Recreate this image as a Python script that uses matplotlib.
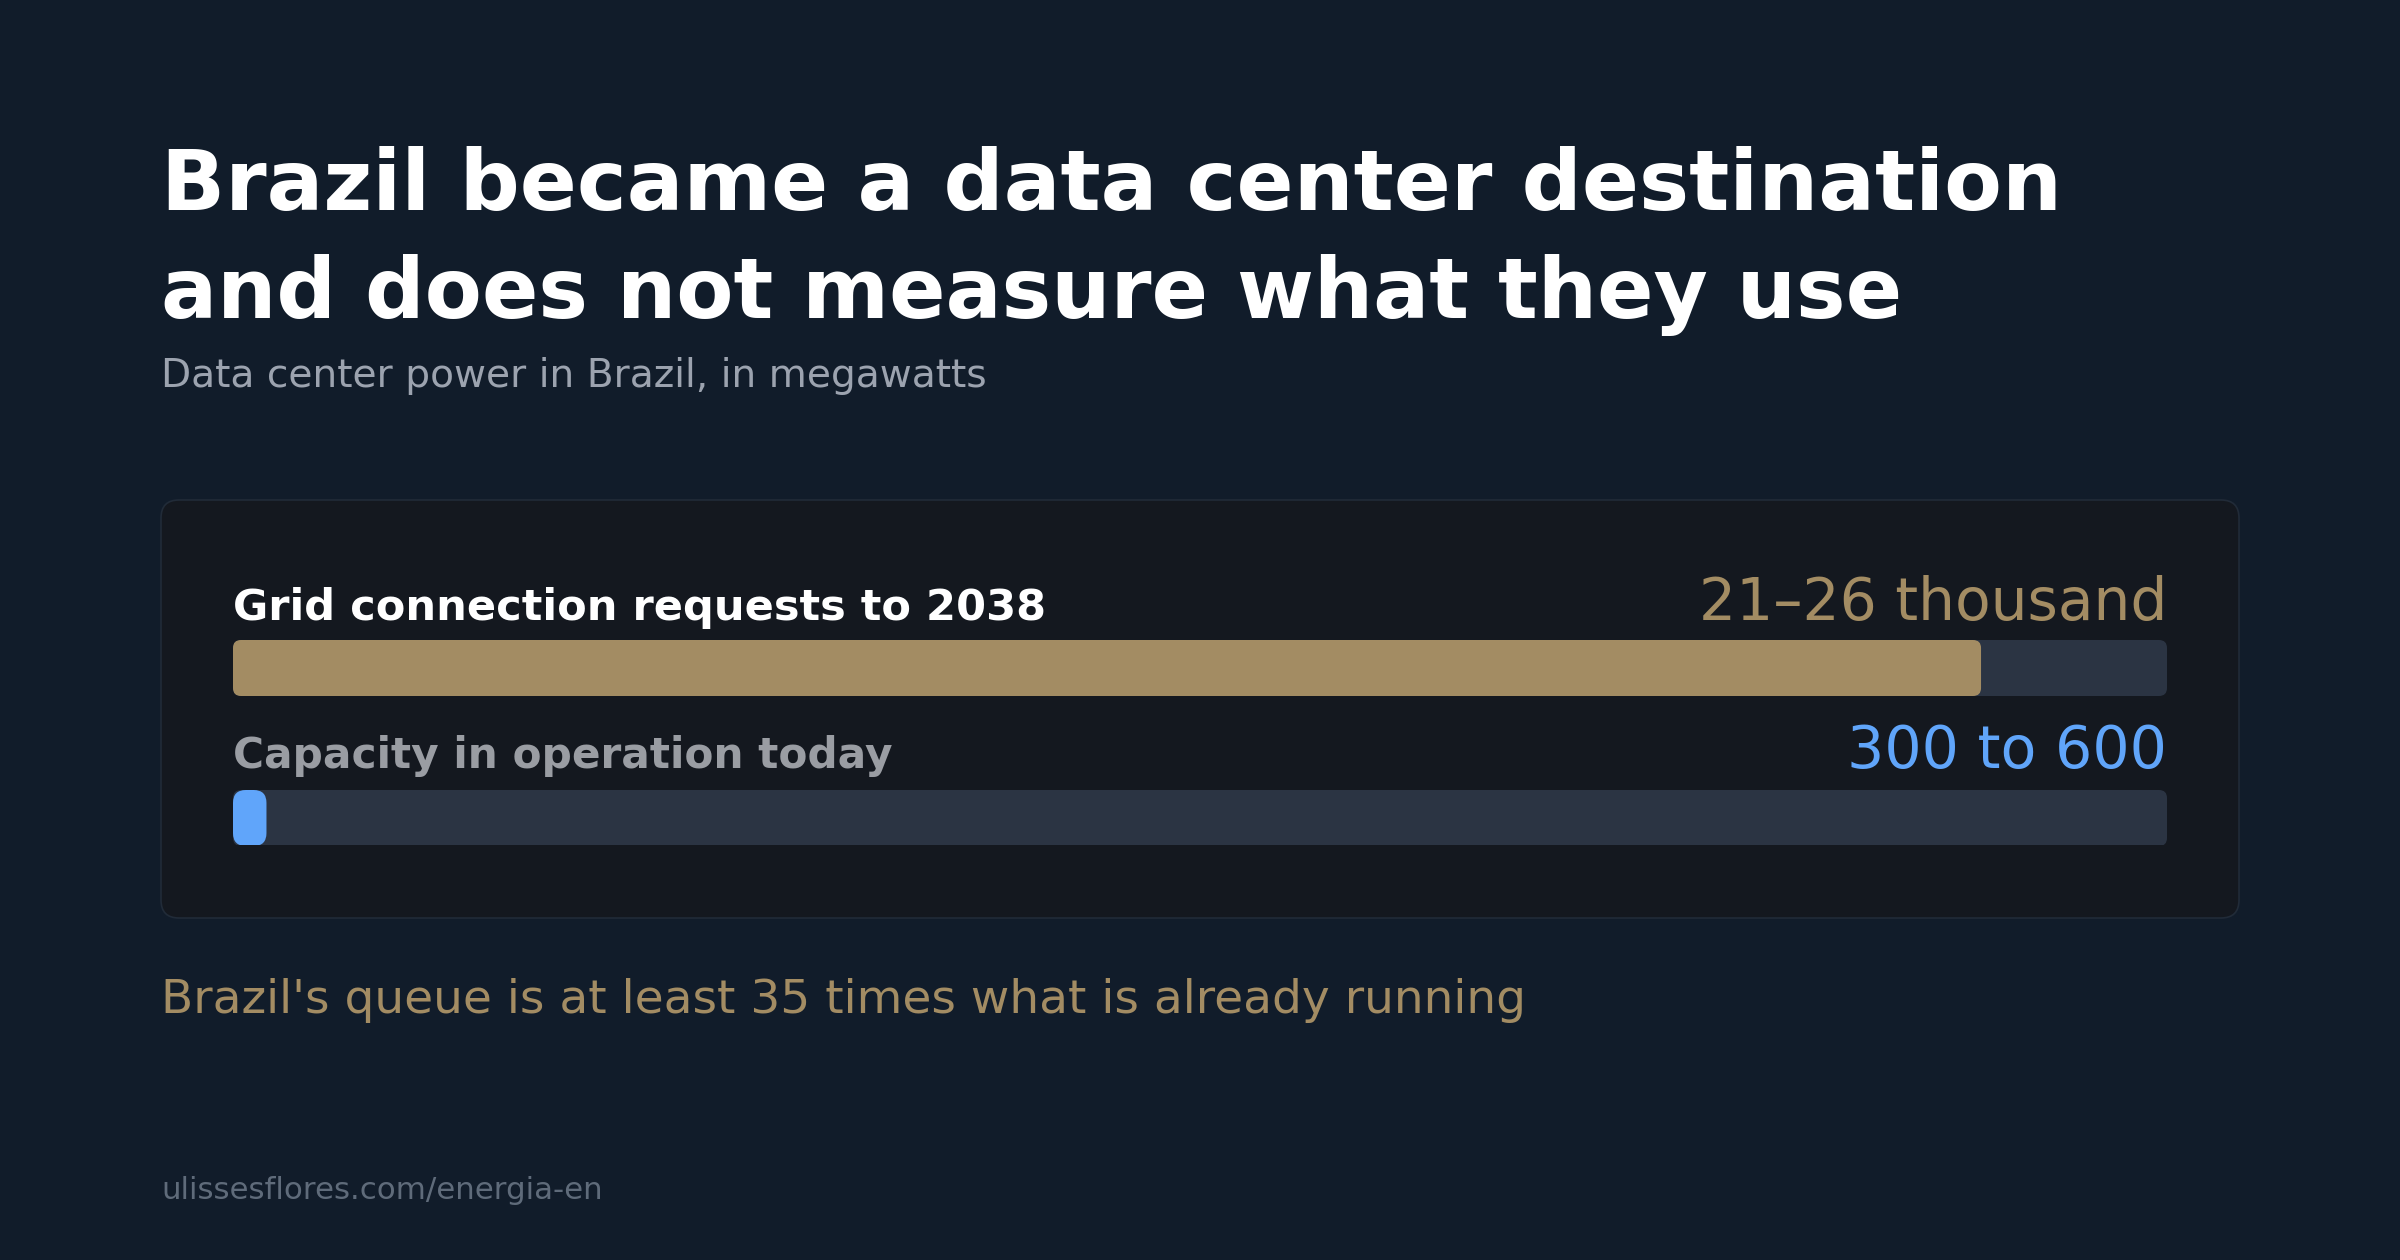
import matplotlib
matplotlib.use("Agg")
import matplotlib.pyplot as plt
from matplotlib.patches import FancyBboxPatch

# chart content
title_lines = ["Brazil became a data center destination", "and does not measure what they use"]
subtitle = "Data center power in Brazil, in megawatts"
categories = ["Grid connection requests to 2038", "Capacity in operation today"]
value_labels = ["21–26 thousand", "300 to 600"]
range_low = [21000, 300]      # MW
range_high = [26000, 600]     # MW
scale_max = 26000
takeaway = "Brazil's queue is at least 35 times what is already running"
source = "ulissesflores.com/energia-en"

BG = "#111c2a"
CARD = "#14181f"
CARD_EDGE = "#212b38"
TRACK = "#2b3443"
GOLD = "#a38c63"
BLUE = "#60a5fa"
FONT = ["DejaVu Sans"]

W, H, DPI = 2400, 1260, 100
fig = plt.figure(figsize=(W / DPI, H / DPI), dpi=DPI, facecolor=BG)
renderer = fig.canvas.get_renderer()


def fit_width(t, target):
    # scale the font so the rendered text spans target pixels
    for _ in range(2):
        w = t.get_window_extent(renderer).width
        t.set_fontsize(t.get_fontsize() * target / w)


# overlay axes in pixel units for the card and text
ov = fig.add_axes([0, 0, 1, 1])
ov.set_xlim(0, W)
ov.set_ylim(H, 0)
ov.axis("off")

t = ov.text(161, 210, title_lines[0], fontsize=64, fontweight="bold", color="white",
            family=FONT, va="baseline")
fit_width(t, 1901)
t = ov.text(161, 318, title_lines[1], fontsize=64, fontweight="bold", color="white",
            family=FONT, va="baseline")
fit_width(t, 1742)
t = ov.text(161, 387, subtitle, fontsize=28, color="#9ca3af", family=FONT, va="baseline")
fit_width(t, 829)

card = FancyBboxPatch((161, 500), 2078, 418, boxstyle="round,pad=0,rounding_size=18",
                      facecolor=CARD, edgecolor=CARD_EDGE, linewidth=1.2)
ov.add_patch(card)

label_colors = ["white", "#9a9da3"]
value_colors = [GOLD, BLUE]
label_base = [620, 768]
label_width = [813, 660]
value_width = [468, 320]
for i, cat in enumerate(categories):
    t = ov.text(233, label_base[i], cat, fontsize=30, fontweight="bold",
                color=label_colors[i], family=FONT, va="baseline")
    fit_width(t, label_width[i])
    t = ov.text(2167, label_base[i], value_labels[i], fontsize=37,
                color=value_colors[i], family=FONT, va="baseline", ha="right")
    fit_width(t, value_width[i])

t = ov.text(161, 1013, takeaway, fontsize=30, color=GOLD, family=FONT, va="baseline")
fit_width(t, 1364)
t = ov.text(161, 1199, source, fontsize=20, color="#5f6b7a", family=FONT, va="baseline")
fit_width(t, 442)

# bar axes: x in MW, y in pixels
bx0, bx1, by0, by1 = 233, 2167, 640, 845
ax = fig.add_axes([bx0 / W, 1 - by1 / H, (bx1 - bx0) / W, (by1 - by0) / H])
ax.set_xlim(0, scale_max)
ax.set_ylim(by1 - by0, 0)
ax.axis("off")
ax.patch.set_alpha(0)

mw_per_px = scale_max / (bx1 - bx0)
aspect = 1 / mw_per_px
bar_h = 56
bar_top = [0, 150]
for i in range(len(categories)):
    mid = (range_low[i] + range_high[i]) / 2
    track = FancyBboxPatch((0, bar_top[i]), scale_max, bar_h,
                           boxstyle=f"round,pad=0,rounding_size={8 * mw_per_px}",
                           mutation_aspect=aspect, facecolor=TRACK, edgecolor="none")
    ax.add_patch(track)
    r = 8 * mw_per_px if i == 0 else mid / 2.6
    fill = FancyBboxPatch((0, bar_top[i]), mid, bar_h,
                          boxstyle=f"round,pad=0,rounding_size={r}",
                          mutation_aspect=aspect, facecolor=value_colors[i], edgecolor="none")
    ax.add_patch(fill)

fig.savefig("out.png", dpi=DPI, facecolor=BG)
